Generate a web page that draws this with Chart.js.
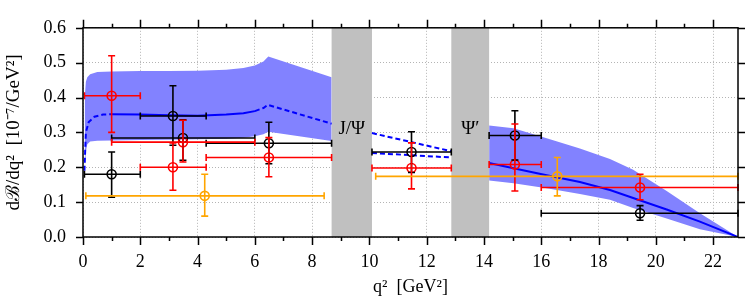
<!DOCTYPE html>
<html>
<head>
<meta charset="utf-8">
<script src="https://cdn.jsdelivr.net/npm/chart.js@4.4.0/dist/chart.umd.min.js"></script>
<style>
  html, body { margin: 0; padding: 0; background: #fff; }
</style>
</head>
<body>
<canvas id="chart-dbdq2" width="747" height="301"></canvas>
<script>
// --- ticks ---
const xTickValues = [0, 2, 4, 6, 8, 10, 12, 14, 16, 18, 20, 22];
const yTickValues = [0.0, 0.1, 0.2, 0.3, 0.4, 0.5, 0.6];
const Q2_MAX = 22.87;

// --- theory band, low q2 region ---
const bandLowQ  = [0.06, 0.1, 0.15, 0.25, 0.5, 1, 2, 3, 4, 5, 5.6, 6.0, 6.3, 6.47, 8.68];
const bandLowHi = [0.40, 0.445, 0.458, 0.467, 0.473, 0.475, 0.476, 0.476, 0.477, 0.48, 0.485, 0.492, 0.503, 0.518, 0.458];
const bandLowLo = [0.19, 0.245, 0.266, 0.274, 0.276, 0.277, 0.278, 0.279, 0.28, 0.282, 0.285, 0.289, 0.295, 0.302, 0.275];
const centralLowQ   = [0.05, 0.1, 0.2, 0.4, 0.7, 1, 2, 3, 4, 5, 5.6, 6.0, 6.3, 6.45, 8.68];
const centralLowVal = [0.19, 0.3, 0.33, 0.345, 0.351, 0.352, 0.351, 0.349, 0.348, 0.351, 0.355, 0.361, 0.37, 0.379, 0.325];

// --- between the resonances (dashed) ---
const midQ     = [10.09, 12.86];
const midUpper = [0.298, 0.246];
const midLower = [0.241, 0.228];

// --- theory band, high q2 region ---
const bandHighQ   = [14.18, 15.03, 16.19, 17.35, 18.4, 19.21, 20.38, 21.54, 22.87];
const bandHighHi  = [0.32, 0.312, 0.283, 0.254, 0.224, 0.193, 0.132, 0.068, 0];
const bandHighLo  = [0.162, 0.154, 0.14, 0.123, 0.107, 0.083, 0.053, 0.022, 0];
const centralHigh = [0.212, 0.197, 0.177, 0.158, 0.135, 0.112, 0.079, 0.044, 0];

// --- charmonium vetoes ---
const vetoLo = [8.68, 12.86];
const vetoHi = [10.09, 14.18];
const vetoLabel = ['J/Ψ', 'Ψ′'];

// --- measurements ---
const blackQ   = [1.0, 3.14, 3.49, 6.49, 11.47, 15.08, 19.45];
const blackVal = [0.18, 0.347, 0.284, 0.269, 0.244, 0.291, 0.068];
const blackLo  = [0.114, 0.263, 0.22, 0.21, 0.185, 0.221, 0.048];
const blackHi  = [0.244, 0.434, 0.336, 0.329, 0.302, 0.362, 0.09];
const blackQLo = [0.05, 2, 1, 4.3, 10.09, 14.18, 16];
const blackQHi = [2, 4.3, 6, 8.68, 12.86, 16, 22.87];

const redQ   = [1.0, 3.14, 3.49, 6.49, 11.47, 15.08, 19.45];
const redVal = [0.405, 0.2, 0.272, 0.228, 0.198, 0.208, 0.142];
const redLo  = [0.3, 0.134, 0.215, 0.173, 0.138, 0.132, 0.107];
const redHi  = [0.52, 0.27, 0.335, 0.285, 0.27, 0.324, 0.18];
const redQLo = [0.05, 2, 1, 4.3, 10.09, 14.18, 16];
const redQHi = [2, 4.3, 6, 8.68, 12.86, 16, 22.87];

const orangeQ   = [4.25, 16.56];
const orangeVal = [0.118, 0.174];
const orangeLo  = [0.06, 0.118];
const orangeHi  = [0.18, 0.228];
const orangeQLo = [0.1, 10.22];
const orangeQHi = [8.42, 22.87];

const SERIF = "'Liberation Serif', serif";
const BAND = 'rgb(130,130,255)';

const pts = (xs, ys) => xs.map((x, i) => ({ x, y: ys[i] }));

const measurements = [
  { color: '#000000', q: blackQ, v: blackVal, lo: blackLo, hi: blackHi, qlo: blackQLo, qhi: blackQHi },
  { color: '#ff0000', q: redQ, v: redVal, lo: redLo, hi: redHi, qlo: redQLo, qhi: redQHi },
  { color: '#ffa500', q: orangeQ, v: orangeVal, lo: orangeLo, hi: orangeHi, qlo: orangeQLo, qhi: orangeQHi },
];

// gray veto bands + labels, below the data
const vetoPlugin = {
  id: 'vetoBands',
  beforeDatasetsDraw(chart) {
    const { ctx: c, chartArea: { top, bottom }, scales: { x } } = chart;
    c.save();
    c.fillStyle = '#c0c0c0';
    vetoLo.forEach((lo, i) => {
      const a = x.getPixelForValue(lo), b = x.getPixelForValue(vetoHi[i]);
      c.fillRect(a, top, b - a, bottom - top);
    });
    c.restore();
  },
  afterDatasetsDraw(chart) {
    const { ctx: c, scales: { x, y } } = chart;
    c.save();
    c.fillStyle = '#000';
    c.font = '19px ' + SERIF;
    c.textAlign = 'center';
    c.textBaseline = 'middle';
    vetoLo.forEach((lo, i) => {
      c.fillText(vetoLabel[i], x.getPixelForValue((lo + vetoHi[i]) / 2), y.getPixelForValue(0.31));
    });
    c.restore();
  }
};

// horizontal + vertical error bars with caps
const errorBarPlugin = {
  id: 'errorBars',
  afterDatasetsDraw(chart) {
    const { ctx: c, scales: { x, y } } = chart;
    const cap = 3.5;
    c.save();
    c.lineWidth = 1.6;
    measurements.forEach(m => {
      c.strokeStyle = m.color;
      m.q.forEach((q, i) => {
        const px = x.getPixelForValue(q), py = y.getPixelForValue(m.v[i]);
        const x0 = x.getPixelForValue(m.qlo[i]), x1 = x.getPixelForValue(m.qhi[i]);
        const y0 = y.getPixelForValue(m.lo[i]), y1 = y.getPixelForValue(m.hi[i]);
        c.beginPath();
        c.moveTo(x0, py); c.lineTo(x1, py);
        c.moveTo(x0, py - cap); c.lineTo(x0, py + cap);
        c.moveTo(x1, py - cap); c.lineTo(x1, py + cap);
        c.moveTo(px, y0); c.lineTo(px, y1);
        c.moveTo(px - cap, y0); c.lineTo(px + cap, y0);
        c.moveTo(px - cap, y1); c.lineTo(px + cap, y1);
        c.stroke();
      });
    });
    c.restore();
  }
};

// frame and tick marks on all four sides (minor x ticks at odd q2)
const framePlugin = {
  id: 'frameTicks',
  afterDraw(chart) {
    const { ctx: c, chartArea: { left, right, top, bottom }, scales: { x, y } } = chart;
    c.save();
    c.strokeStyle = '#000';
    c.lineWidth = 1.5;
    c.beginPath();
    for (let q = 0; q <= 22; q++) {
      const px = Math.round(x.getPixelForValue(q)) + 0.5;
      const len = q % 2 === 0 ? 8 : 4;
      c.moveTo(px, bottom); c.lineTo(px, bottom + len);
      c.moveTo(px, top); c.lineTo(px, top - len);
    }
    yTickValues.forEach(v => {
      const py = Math.round(y.getPixelForValue(v)) + 0.5;
      c.moveTo(left, py); c.lineTo(left - 7, py);
      c.moveTo(right, py); c.lineTo(right + 7, py);
    });
    c.stroke();
    c.strokeRect(left, top, right - left, bottom - top);
    c.restore();
  }
};

const ctx = document.getElementById('chart-dbdq2');
ctx.chart = new Chart(ctx, {
  type: 'line',
  data: {
    datasets: [
      // band first (high order = drawn underneath)
      { data: pts(bandLowQ, bandLowHi), borderWidth: 0, pointRadius: 0, fill: false, order: 20 },
      { data: pts(bandLowQ, bandLowLo), borderWidth: 0, pointRadius: 0, fill: '-1', backgroundColor: BAND, order: 19 },
      { data: pts(bandHighQ, bandHighHi), borderWidth: 0, pointRadius: 0, fill: false, order: 18 },
      { data: pts(bandHighQ, bandHighLo), borderWidth: 0, pointRadius: 0, fill: '-1', backgroundColor: BAND, order: 17 },
      {
        data: pts(centralLowQ, centralLowVal), borderColor: '#0000ff', borderWidth: 2, pointRadius: 0, order: 10,
        segment: { borderDash: (s) => (s.p0.parsed.x < 1 || s.p0.parsed.x >= 6.0) ? [5, 3] : undefined }
      },
      { data: pts(midQ, midUpper), borderColor: '#0000ff', borderWidth: 2, pointRadius: 0, borderDash: [5, 3], order: 10 },
      { data: pts(midQ, midLower), borderColor: '#0000ff', borderWidth: 2, pointRadius: 0, borderDash: [5, 3], order: 10 },
      { data: pts(bandHighQ, centralHigh), borderColor: '#0000ff', borderWidth: 2, pointRadius: 0, order: 10 },
      ...measurements.map((m, k) => ({
        type: 'scatter',
        data: pts(m.q, m.v),
        showLine: false,
        pointStyle: 'circle',
        pointRadius: 4.5,
        borderWidth: 1.6,
        borderColor: m.color,
        backgroundColor: 'rgba(0,0,0,0)',
        order: 3 - k
      }))
    ]
  },
  plugins: [vetoPlugin, errorBarPlugin, framePlugin],
  options: {
    responsive: false,
    animation: false,
    events: [],
    layout: { padding: { top: 8, right: 9, left: 0, bottom: 0 } },
    plugins: { legend: { display: false }, tooltip: { enabled: false } },
    scales: {
      x: {
        type: 'linear',
        min: 0,
        max: Q2_MAX,
        afterBuildTicks: (s) => { s.ticks = xTickValues.map(v => ({ value: v })); },
        afterFit: (s) => { s.height = 64; },
        ticks: { color: '#000', padding: 14, font: { family: SERIF, size: 18 }, callback: (v) => String(v) },
        grid: { color: '#b4b4b4', lineWidth: 1, drawTicks: false },
        border: { display: false, dash: [1, 2] },
        title: { display: true, text: 'q²  [GeV²]', color: '#000', font: { family: SERIF, size: 18 }, padding: { bottom: 3 } }
      },
      y: {
        min: 0,
        max: 0.6,
        afterBuildTicks: (s) => { s.ticks = yTickValues.map(v => ({ value: v })); },
        afterFit: (s) => { s.width = 83; },
        ticks: { color: '#000', padding: 17, font: { family: SERIF, size: 18 }, callback: (v) => v.toFixed(1) },
        grid: { color: '#b4b4b4', lineWidth: 1, drawTicks: false },
        border: { display: false, dash: [1, 2] },
        title: { display: true, text: 'dℬ/dq²  [10⁻⁷/GeV²]', color: '#000', font: { family: SERIF, size: 19 }, padding: { top: 3 } }
      }
    }
  }
});
</script>
</body>
</html>
